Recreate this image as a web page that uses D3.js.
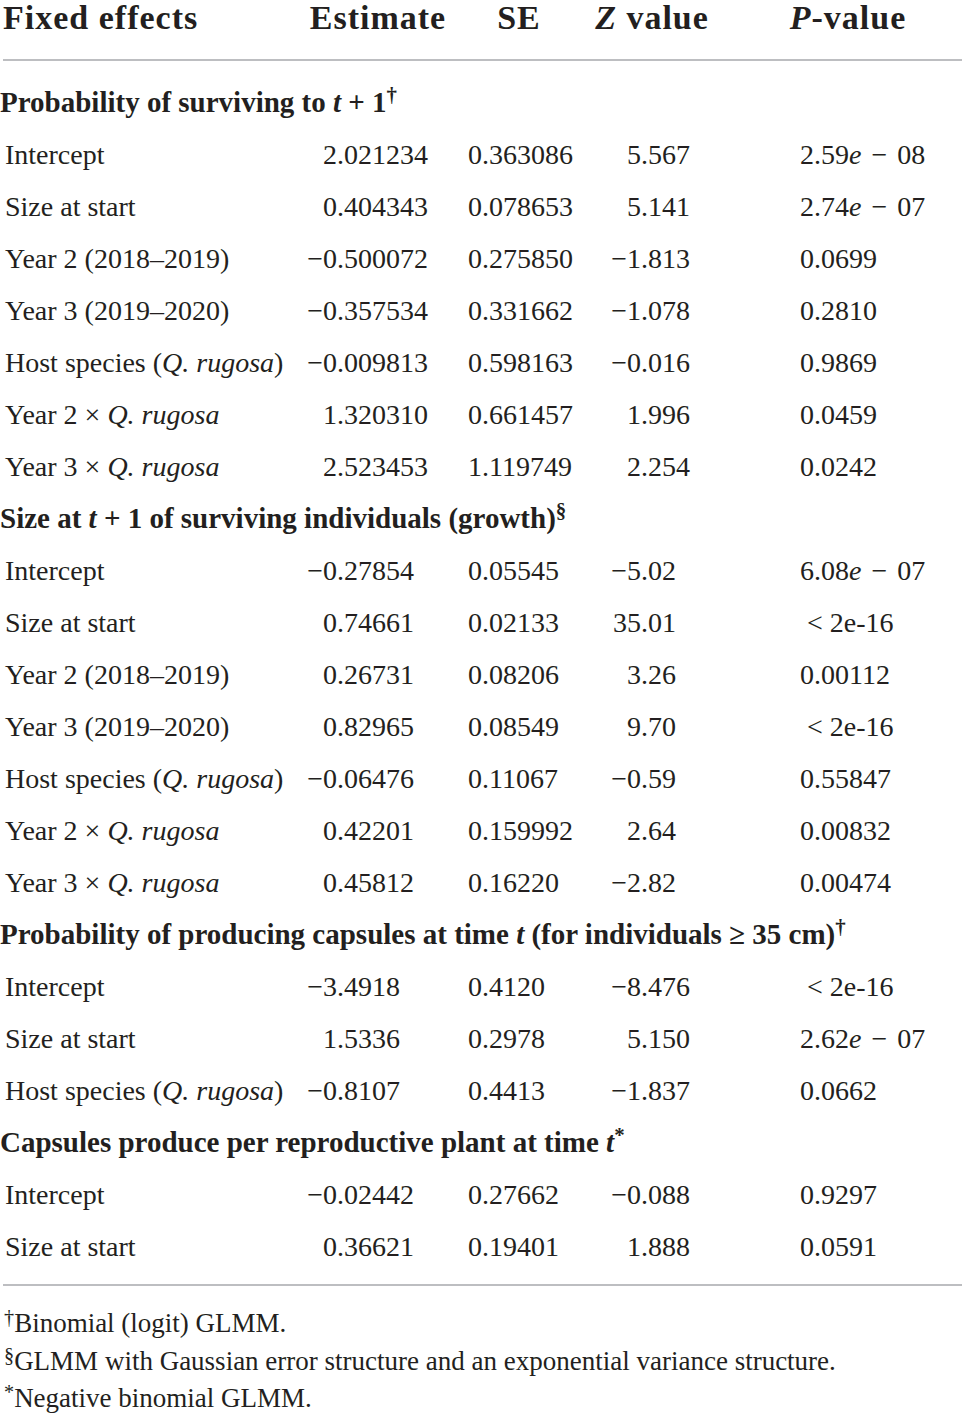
<!DOCTYPE html>
<html><head><meta charset="utf-8">
<script src="https://cdn.jsdelivr.net/npm/d3@7"></script>
<style>body{margin:0;background:#fff}svg{display:block}</style>
</head><body>
<script>
// ---- data ----
const columns = ["Fixed effects", "Estimate", "SE", "*Z* value", "*P*-value"];
const sectionTitles = [
  "Probability of surviving to *t* + 1^†^",
  "Size at *t* + 1 of surviving individuals (growth)^§^",
  "Probability of producing capsules at time *t* (for individuals ≥ 35 cm)^†^",
  "Capsules produce per reproductive plant at time *t*^*^"
];
const survLabels = ["Intercept","Size at start","Year 2 (2018–2019)","Year 3 (2019–2020)","Host species (*Q. rugosa*)","Year 2 × *Q. rugosa*","Year 3 × *Q. rugosa*"];
const survEst = ["2.021234","0.404343","−0.500072","−0.357534","−0.009813","1.320310","2.523453"];
const survSE  = ["0.363086","0.078653","0.275850","0.331662","0.598163","0.661457","1.119749"];
const survZ   = ["5.567","5.141","−1.813","−1.078","−0.016","1.996","2.254"];
const survP   = ["2.59*e* − 08","2.74*e* − 07","0.0699","0.2810","0.9869","0.0459","0.0242"];

const growLabels = ["Intercept","Size at start","Year 2 (2018–2019)","Year 3 (2019–2020)","Host species (*Q. rugosa*)","Year 2 × *Q. rugosa*","Year 3 × *Q. rugosa*"];
const growEst = ["−0.27854","0.74661","0.26731","0.82965","−0.06476","0.42201","0.45812"];
const growSE  = ["0.05545","0.02133","0.08206","0.08549","0.11067","0.159992","0.16220"];
const growZ   = ["−5.02","35.01","3.26","9.70","−0.59","2.64","−2.82"];
const growP   = ["6.08*e* − 07"," < 2e-16","0.00112"," < 2e-16","0.55847","0.00832","0.00474"];

const capLabels = ["Intercept","Size at start","Host species (*Q. rugosa*)"];
const capEst = ["−3.4918","1.5336","−0.8107"];
const capSE  = ["0.4120","0.2978","0.4413"];
const capZ   = ["−8.476","5.150","−1.837"];
const capP   = [" < 2e-16","2.62*e* − 07","0.0662"];

const numLabels = ["Intercept","Size at start"];
const numEst = ["−0.02442","0.36621"];
const numSE  = ["0.27662","0.19401"];
const numZ   = ["−0.088","1.888"];
const numP   = ["0.9297","0.0591"];

const footnotes = ["^†^Binomial (logit) GLMM.","^§^GLMM with Gaussian error structure and an exponential variance structure.","^*^Negative binomial GLMM."];

// ---- build rows ----
const blocks = [
  [sectionTitles[0], survLabels, survEst, survSE, survZ, survP],
  [sectionTitles[1], growLabels, growEst, growSE, growZ, growP],
  [sectionTitles[2], capLabels, capEst, capSE, capZ, capP],
  [sectionTitles[3], numLabels, numEst, numSE, numZ, numP]
];
const rows = [];
blocks.forEach(([t, L, E, S, Z, P]) => {
  rows.push({type: "section", label: t});
  L.forEach((l, i) => rows.push({type: "row", label: l, est: E[i], se: S[i], z: Z[i], p: P[i]}));
});

const W = 962, H = 1413;
const svg = d3.select("body").append("svg").attr("width", W).attr("height", H)
  .style("font-family", "'Liberation Serif','Times New Roman',serif");
svg.append("rect").attr("width", W).attr("height", H).attr("fill", "#fff");

const y = d3.scaleLinear().domain([0, rows.length - 1]).range([103, 1247]);
const colX = d3.scaleOrdinal().domain(["est","se","z","p"]).range([337, 482, 641, 800]);

function rich(sel, str, supSize, supRise) {
  // *italic*, ^superscript^ ; supRise in parent em
  const parts = str.split(/(\*[^*]+\*|\^[^^]+\^)/).filter(s => s.length);
  let pendingDy = 0;
  parts.forEach(p => {
    let t;
    if (p.startsWith("^") && p.endsWith("^") && p.length > 2) {
      sel.append("tspan").attr("font-size", supSize + "em")
        .attr("dy", (-supRise / supSize).toFixed(3) + "em").text(p.slice(1, -1));
      pendingDy = supRise;
      return;
    }
    if (p.startsWith("*") && p.endsWith("*") && p.length > 2) {
      t = sel.append("tspan").attr("font-style", "italic").text(p.slice(1, -1));
    } else {
      t = sel.append("tspan").text(p);
    }
    if (pendingDy) { t.attr("dy", pendingDy + "em"); pendingDy = 0; }
  });
  return sel;
}

// header
const headerX = [3, 378, 519, 652, 848];
const hdr = svg.append("g").attr("font-weight", "bold").attr("font-size", 34)
  .attr("letter-spacing", 1).attr("fill", "#231f20");
columns.forEach((c, i) => {
  rich(hdr.append("text").attr("x", headerX[i]).attr("y", 29)
    .attr("text-anchor", i === 0 ? "start" : "middle"), c, 0.7, 0.3);
});

svg.append("line").attr("x1", 3).attr("x2", 962).attr("y1", 60).attr("y2", 60)
  .attr("stroke", "#a7a9ac").attr("stroke-width", 1.5);

const body = svg.append("g").attr("fill", "#231f20").attr("font-size", 28);
const measure = body.append("text").attr("x", -1000).attr("y", -1000).text("0");
function w(s) { measure.text(s); return measure.node().getComputedTextLength(); }

rows.forEach((r, i) => {
  const cy = y(i) + 9;
  if (r.type === "section") {
    rich(body.append("text").attr("x", 0).attr("y", cy).attr("font-weight", "bold").attr("font-size", 29),
      r.label, 0.72, 0.33);
  } else {
    rich(body.append("text").attr("x", 5).attr("y", cy), r.label, 0.7, 0.3);
    ["est","se","z"].forEach(k => {
      const s = r[k];
      const intPart = s.split(".")[0];
      body.append("text").attr("x", colX(k) - w(intPart)).attr("y", cy).text(s);
    });
    rich(body.append("text").attr("x", colX("p")).attr("y", cy)
      .attr("xml:space", "preserve").attr("word-spacing", r.p.includes("*e*") ? 3 : 0), r.p, 0.7, 0.3);
  }
});
measure.remove();

svg.append("line").attr("x1", 3).attr("x2", 962).attr("y1", 1285).attr("y2", 1285)
  .attr("stroke", "#a7a9ac").attr("stroke-width", 1.5);

const fy = [1323, 1361, 1398];
footnotes.forEach((f, i) => {
  rich(body.append("text").attr("x", 4).attr("y", fy[i] + 9).attr("font-size", 27), f, 0.75, 0.3);
});
</script>
</body></html>
